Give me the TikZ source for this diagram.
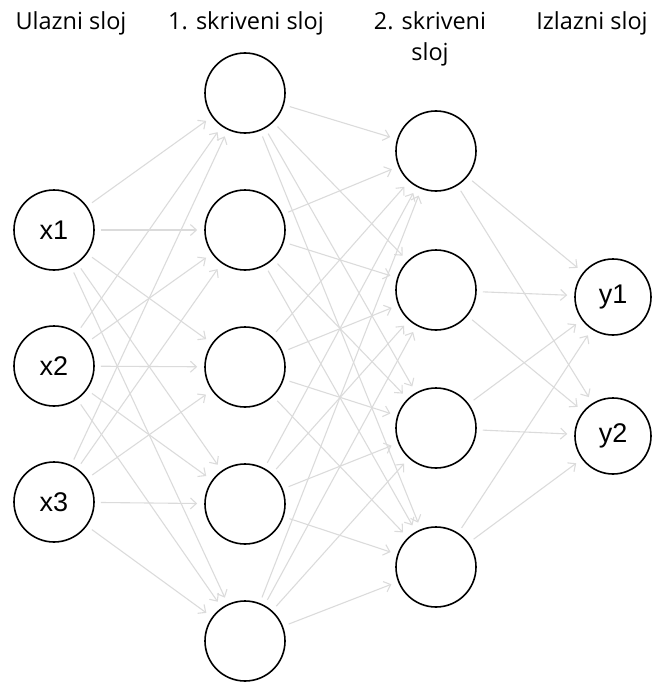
\documentclass[tikz,border=0pt]{standalone}
\usepackage{fontspec}
\setmainfont{Open Sans}
\newfontfamily\labelfont{Liberation Sans}
\usetikzlibrary{arrows.meta}
\tikzset{
  neuron/.style={draw, circle, fill=white, line width=1.6pt, minimum size=80pt, inner sep=0pt,
    font=\labelfont\fontsize{27}{30}\selectfont},
  outneuron/.style={neuron, minimum size=76pt},
  synapse/.style={draw=black!14, line width=1.1pt, -{Straight Barb[length=6pt,width=11pt]},
    shorten <=6pt, shorten >=7pt},
  layertitle/.style={font=\fontsize{23.5}{31}\selectfont, align=center, anchor=north, inner sep=0pt}
}
\begin{document}
\begin{tikzpicture}[x=1pt,y=-1pt]
\useasboundingbox (0,0) rectangle (651,682);
% Naslovi
\node[layertitle] (tin) at (71,11) {Ulazni sloj};
\node[layertitle] (th1) at (246,11) {1. skriveni sloj};
\node[layertitle] (th2) at (430,11) {2. skriveni\\sloj};
\node[layertitle] (tout) at (592,11) {Izlazni sloj};
% Ulazni sloj
\foreach \i/\y in {1/230,2/366,3/502}
  \node[neuron] (x\i) at (54,\y) {x\i};
% 1. skriveni sloj
\foreach \i/\y in {1/93,2/230,3/367,4/504,5/641}
  \node[neuron] (a\i) at (245,\y) {};
% 2. skriveni sloj
\foreach \i/\y in {1/151,2/290,3/428,4/567}
  \node[neuron] (b\i) at (436,\y) {};
% Izlazni sloj
\node[outneuron] (y1) at (613,297) {y1};
\node[outneuron] (y2) at (613,436) {y2};
% Veze
\foreach \i in {1,...,3}
  \foreach \j in {1,...,5}
    \draw[synapse] (x\i) -- (a\j);
\foreach \i in {1,...,5}
  \foreach \j in {1,...,4}
    \draw[synapse] (a\i) -- (b\j);
\foreach \i in {1,...,4}
  \foreach \j in {1,2}
    \draw[synapse] (b\i) -- (y\j);
\end{tikzpicture}
\end{document}
